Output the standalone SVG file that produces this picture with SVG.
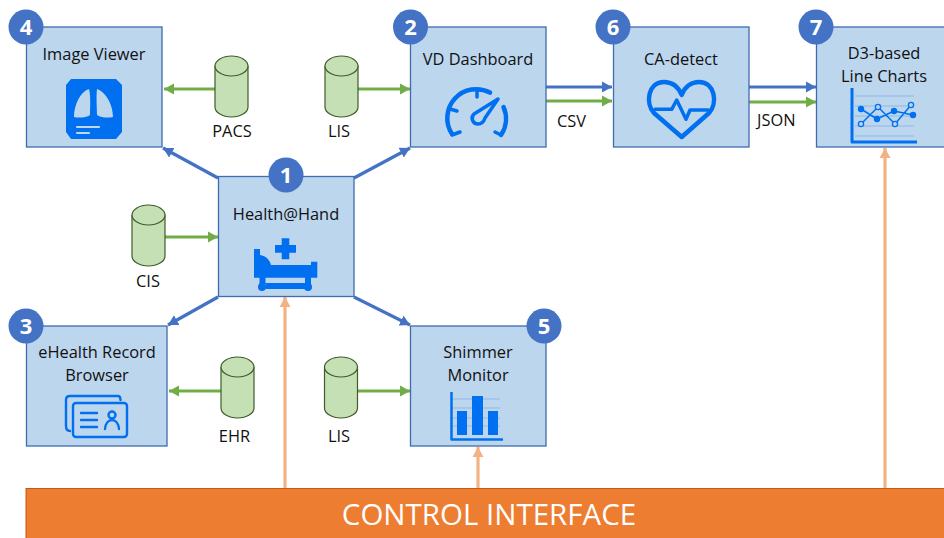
<svg xmlns="http://www.w3.org/2000/svg" width="944" height="538" viewBox="0 0 944 538">
<style>
text{font-family:"Open Sans","Noto Sans","Liberation Sans",sans-serif;fill:#111;text-anchor:middle;font-size:16.4px}
.box{fill:#bcd6ee;stroke:#3f6cae;stroke-width:1.3}
.badge circle{fill:#4472c4}
.badge text{fill:#fff;font-weight:700;font-size:22px}
.cy{fill:#c5e0b4;stroke:#3d5c2a;stroke-width:1.2}
.b{stroke:#4472c4;stroke-width:3.2;fill:none;marker-end:url(#mb)}
.g{stroke:#70ad47;stroke-width:3.2;fill:none;marker-end:url(#mg)}
.o{stroke:#f4b183;stroke-width:3.2;fill:none;marker-end:url(#mo)}
.i{fill:#0070f0}
.il{fill:none;stroke:#0070f0;stroke-linecap:round;stroke-linejoin:round}
</style>
<defs>
<marker id="mb" markerUnits="userSpaceOnUse" markerWidth="11" markerHeight="12" refX="10" refY="6" orient="auto"><path d="M0 0.5L10 6L0 11.500z" fill="#4472c4"/></marker>
<marker id="mg" markerUnits="userSpaceOnUse" markerWidth="11" markerHeight="12" refX="10" refY="6" orient="auto"><path d="M0 0.5L10 6L0 11.500z" fill="#70ad47"/></marker>
<marker id="mo" markerUnits="userSpaceOnUse" markerWidth="11" markerHeight="12" refX="10" refY="6" orient="auto"><path d="M0 0.5L10 6L0 11.500z" fill="#f4b183"/></marker>
<g id="cyl"><path class="cy" d="M0 10A16.500 10 0 0 1 33 10V51A16.500 10 0 0 1 0 51Z"/><path class="cy" d="M0 10A16.500 10 0 0 0 33 10"/></g>
</defs>

<g id="connectors">
<path class="b" d="M218 178L163 148"/>
<path class="b" d="M354 178L410 148"/>
<path class="b" d="M218 297L168 325"/>
<path class="b" d="M354 297L410 325"/>
<path class="g" d="M215 89H164"/>
<path class="g" d="M357 89H410"/>
<path class="g" d="M165 237H218"/>
<path class="g" d="M221 391H169"/>
<path class="g" d="M357 391H410"/>
<path class="b" d="M546 87H612"/>
<path class="g" d="M546 101H612"/>
<path class="b" d="M749 87H816"/>
<path class="g" d="M749 102H816"/>
<path class="o" d="M285 488V297"/>
<path class="o" d="M478 488V447"/>
<path class="o" d="M885 488V148"/>
</g>

<g id="node-4">
<rect class="box" x="26.500" y="27" width="135.500" height="120"/>
<text x="94" y="60">Image Viewer</text>
<path class="i" d="M71 79H116L122 85V132L116 139H71L66 132V85Z"/>
<path d="M74 117C74 105 80 92 89 89C91 96 90 109 90 115C86 118 78 118 74 117ZM97 89C106 92 113 105 113 117C109 118 101 118 97 115C97 109 96 96 97 89Z" fill="#bcd6ee"/>
<path d="M77 127H99M77 133H89" stroke="#bcd6ee" stroke-width="2.200" stroke-linecap="round"/>
</g>

<g id="node-2">
<rect class="box" x="410.500" y="27" width="135.500" height="120"/>
<text x="478" y="65">VD Dashboard</text>
<path class="il" stroke-width="4.500" d="M452 134A29 29 0 0 1 490 92.600M503.500 107A29 29 0 0 1 501 135"/>
<path class="il" stroke-width="3.500" d="M477 91V97M450 109L457 111M452 135L460 132M495 132L501 135"/>
<path class="il" stroke-width="3.500" d="M498 99L474 114C470 118 473 124 478 124C482 124 484 121 485 118Z"/>
</g>

<g id="node-6">
<rect class="box" x="613.500" y="27" width="135.500" height="120"/>
<text x="681" y="65">CA-detect</text>
<path class="il" stroke-width="4.500" d="M681.700 137L654 113C645 103 648 82 664 82C672 82 678 86 681.700 95C685 86 692 82 699 82C715 82 718 103 709 113Z"/>
<path class="il" stroke-width="3.500" d="M655 109.300H671.700L676.700 100L686 119.300L690 110H708"/>
</g>

<g id="node-7">
<rect class="box" x="816.500" y="27" width="140" height="120"/>
<text x="884" y="59">D3-based</text>
<text x="884" y="82">Line Charts</text>
<path d="M855 96H914M855 106H914M855 116H914M855 126H914M855 136H914" stroke="#8fb8e8" stroke-width="1" fill="none"/>
<path class="il" stroke-width="3" d="M852 88V142H917" style="stroke-linecap:butt"/>
<path class="il" stroke-width="1.500" d="M861 124L878 107L895 124L911 105M861 109L877 119L894 111L913 115"/>
<g class="i"><circle cx="861" cy="109" r="3.200"/><circle cx="877" cy="119" r="3.200"/><circle cx="894" cy="111" r="3.200"/><circle cx="913" cy="115" r="3.200"/></g>
<g fill="#bcd6ee" stroke="#0070f0" stroke-width="1.300"><circle cx="861" cy="124" r="2.600"/><circle cx="878" cy="107" r="2.600"/><circle cx="895" cy="124" r="2.600"/><circle cx="911" cy="105" r="2.600"/></g>
</g>

<g id="node-1">
<rect class="box" x="218.500" y="176.500" width="135.500" height="120"/>
<text x="286" y="220">Health@Hand</text>
<path class="i" d="M254 249H260V255C266 256 270 260 271 265H311V261.700H317.300V277.700H254Z"/>
<path class="i" d="M259.500 277H265.500V283H305V277H311V284H305V289H265.500V284H259.500Z"/>
<circle class="i" cx="262" cy="287" r="4"/><circle class="i" cx="308" cy="287" r="4"/>
<path class="i" d="M281.700 238.300H289.300V245H296V252.700H289.300V259.300H281.700V252.700H275V245H281.700Z"/>
</g>

<g id="node-3">
<rect class="box" x="26.500" y="326" width="140.500" height="120"/>
<text x="97" y="358">eHealth Record</text>
<text x="97" y="381">Browser</text>
<g class="il" stroke-width="2.400"><path d="M70 431C66 431 66 428 66 426V400C66 397 68 396 70 396H118C120 396 120.500 398 120.500 400"/>
<rect x="73" y="403" width="54" height="34" rx="3"/></g>
<path class="il" stroke-width="2.400" d="M81 413H97M81 420H97M81 427H97M105 429C106 417 118 417 119 429"/><circle cx="112" cy="415" r="3.500" fill="none" stroke="#0070f0" stroke-width="2.400"/>
</g>

<g id="node-5">
<rect class="box" x="410.500" y="326" width="135.500" height="120"/>
<text x="478" y="358">Shimmer</text>
<text x="478" y="381">Monitor</text>
<path d="M452 399H500M452 408H500M452 418H500M452 426H500" stroke="#8fb8e8" stroke-width="1"/>
<path class="i" d="M457 411H467V435H457ZM472 396H483V435H472ZM488 411H498V435H488Z"/>
<path class="il" stroke-width="2.500" d="M451.500 392V439.500H503" style="stroke-linecap:butt"/>
</g>

<g id="db-pacs"><use href="#cyl" x="215" y="56"/><text x="232" y="137">PACS</text></g>
<g id="db-lis-top"><use href="#cyl" x="325" y="56"/><text x="339" y="137">LIS</text></g>
<g id="db-cis"><use href="#cyl" x="132" y="205"/><text x="148" y="287">CIS</text></g>
<g id="db-ehr"><use href="#cyl" x="221" y="357"/><text x="234.500" y="442">EHR</text></g>
<g id="db-lis-bottom"><use href="#cyl" x="324.500" y="357"/><text x="339" y="442">LIS</text></g>

<text x="557" y="127" style="text-anchor:start">CSV</text>
<text x="757" y="126" style="text-anchor:start">JSON</text>

<g id="control-interface">
<rect x="26" y="488.500" width="930" height="52" fill="#ed7d31" stroke="#c55a11" stroke-width="1"/>
<text x="489" y="525" style="fill:#fff;font-size:29.500px">CONTROL INTERFACE</text>
</g>

<g class="badge" id="badges">
<g id="badge-4"><circle cx="26" cy="27" r="17.500"/><text x="26" y="35">4</text></g>
<g id="badge-2"><circle cx="410.500" cy="27" r="17.500"/><text x="410.500" y="35">2</text></g>
<g id="badge-6"><circle cx="613" cy="27" r="17.500"/><text x="613" y="35">6</text></g>
<g id="badge-7"><circle cx="816" cy="27" r="17.500"/><text x="816" y="35">7</text></g>
<g id="badge-1"><circle cx="286" cy="175" r="17.500"/><text x="286" y="183">1</text></g>
<g id="badge-3"><circle cx="26" cy="326" r="17.500"/><text x="26" y="334">3</text></g>
<g id="badge-5"><circle cx="544" cy="326" r="17.500"/><text x="544" y="334">5</text></g>
</g>
</svg>
